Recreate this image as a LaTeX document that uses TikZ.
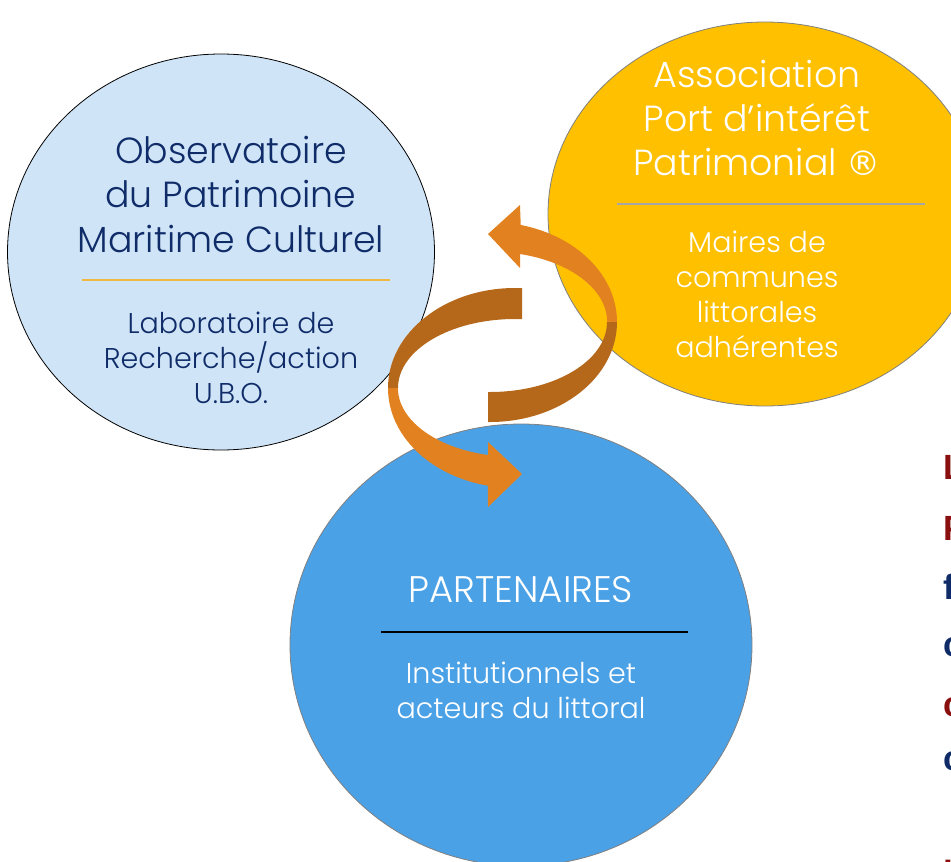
\documentclass[tikz,border=0pt]{standalone}
\usepackage{fontspec}
\setmainfont{Poppins Light}
\newfontfamily\edgefont{Liberation Sans}
\newfontfamily\markfont{DejaVu Sans}
\usetikzlibrary{shapes.geometric}

\definecolor{obsfill}{HTML}{CFE4F7}
\definecolor{assocfill}{HTML}{FFC000}
\definecolor{partfill}{HTML}{4BA1E6}
\definecolor{navy}{HTML}{0F2C69}
\definecolor{darkred}{HTML}{8A1010}
\definecolor{ribbonfront}{HTML}{E2811F}
\definecolor{ribbonback}{HTML}{B5671A}
\definecolor{rulegold}{HTML}{F0B941}
\definecolor{rulegray}{HTML}{A6A6A6}

\tikzset{
  bubble/.style={ellipse, inner sep=0pt, line width=0.8pt},
  titletext/.style={anchor=base, inner sep=0pt, font=\fontsize{36.3}{36.3}\selectfont},
  subtext/.style={anchor=base, inner sep=0pt, font=\fontsize{28.6}{28.6}\selectfont},
  edgeletter/.style={anchor=base west, inner sep=0pt, font=\edgefont\bfseries\fontsize{35}{35}\selectfont},
}

\begin{document}
\begin{tikzpicture}[x=1pt,y=-1pt]
\useasboundingbox (0,0) rectangle (951,862);
\clip (0,0) rectangle (951,862);

% the three bubbles
\node[bubble, draw=black, fill=obsfill, minimum width=427pt, minimum height=396pt] (obs) at (221,252) {};
\node[bubble, draw=gray, fill=assocfill, minimum width=434pt, minimum height=384pt] (assoc) at (765,214) {};
\node[bubble, draw=gray, fill=partfill, minimum width=462pt, minimum height=442pt] (part) at (521,645) {};

% Observatoire
\begin{scope}[text=navy]
\node[titletext] (obs1) at (231,163) {Observatoire};
\node[titletext] (obs2) at (231,207) {du Patrimoine};
\node[titletext] (obs3) at (231,252) {Maritime Culturel};
\node[subtext] (obs4) at (231,333) {Laboratoire de};
\node[subtext] (obs5) at (231,368) {Recherche/action};
\node[subtext] (obs6) at (231,403) {U.B.O.};
\end{scope}
\coordinate (obsL) at (82,280);
\coordinate (obsR) at (390,280);
\draw[rulegold, line width=1.5pt] (obsL) -- (obsR);

% Association
\begin{scope}[text=white]
\node[titletext] (as1) at (757,87) {Association};
\node[titletext] (as2) at (757,131) {Port d’intérêt};
\node[titletext] (as3) at (757,175) {Patrimonial {\markfont\fontsize{34}{34}\selectfont ®}};
\node[subtext] (as4) at (757,252) {Maires de};
\node[subtext] (as5) at (757,287) {communes};
\node[subtext] (as6) at (757,322) {littorales};
\node[subtext] (as7) at (757,357) {adhérentes};
\end{scope}
\coordinate (asL) at (617,204);
\coordinate (asR) at (925,204);
\draw[rulegray, line width=1.5pt] (asL) -- (asR);

% Partenaires
\begin{scope}[text=white]
\node[titletext, font=\fontsize{37}{37}\selectfont] (pa1) at (521,602) {PARTENAIRES};
\node[subtext] (pa2) at (521,683) {Institutionnels et};
\node[subtext] (pa3) at (521,718) {acteurs du littoral};
\end{scope}
\coordinate (paL) at (381,632);
\coordinate (paR) at (688,632);
\draw[black, line width=2pt] (paL) -- (paR);

% upper ribbon arrow (towards the Observatoire)
\fill[ribbonback] (490,322) ++(0:127 and 100) arc[start angle=0, end angle=90, x radius=127, y radius=100]
  -- (488,422) -- (488,392) -- (490,392)
  arc[start angle=90, end angle=0, x radius=117, y radius=70] -- cycle;
\fill[ribbonfront] (490,322) ++(0:127 and 100) arc[start angle=0, end angle=-76, x radius=127, y radius=100]
  -- (520,205) -- (488,234) -- (520,268) -- (520,254)
  arc[start angle=-75.2, end angle=0, x radius=117, y radius=70] -- cycle;

% lower ribbon arrow (towards the partners)
\fill[ribbonback] (515,388) ++(-90:127 and 100) -- (522,288) -- (522,319) -- (515,319)
  arc[start angle=-90, end angle=-180, x radius=117, y radius=69]
  -- (388,388)
  arc[start angle=180, end angle=270, x radius=127, y radius=100] -- cycle;
\fill[ribbonfront] (515,388) ++(180:127 and 100) arc[start angle=180, end angle=102.3, x radius=127, y radius=100]
  -- (488,507) -- (522,474) -- (488,442) -- (488,455)
  arc[start angle=103.3, end angle=180, x radius=117, y radius=69] -- cycle;

% edge of a text column beyond the right border
\node[edgeletter, text=darkred] (e1) at (943,479) {L};
\node[edgeletter, text=darkred] (e2) at (943,540) {P};
\node[edgeletter, text=navy] (e3) at (943,599) {f};
\node[edgeletter, text=navy] (e4) at (943,656) {c};
\node[edgeletter, text=darkred] (e5) at (943,716) {c};
\node[edgeletter, text=navy] (e6) at (943,770) {c};
\node[edgeletter, text=darkred] (e7) at (943,885) {l};
\end{tikzpicture}
\end{document}
